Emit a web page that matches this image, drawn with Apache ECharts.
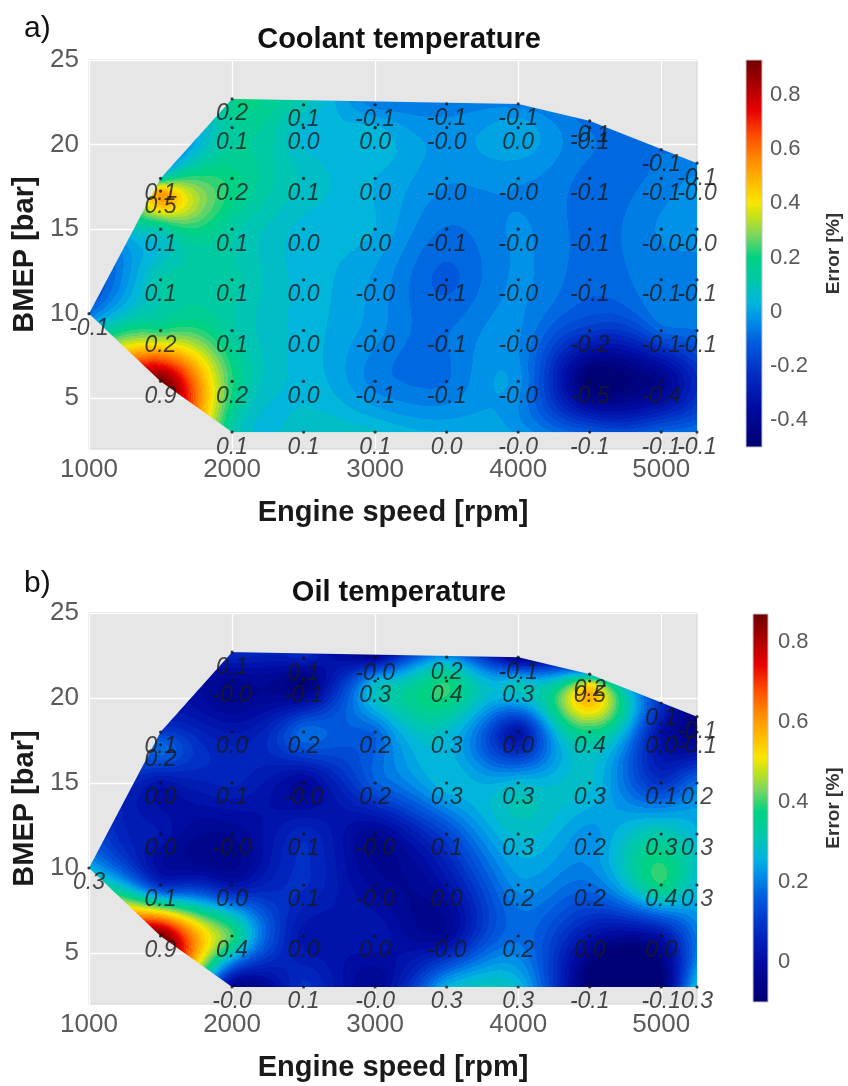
<!DOCTYPE html>
<html>
<head>
<meta charset="utf-8">
<script src="https://cdn.jsdelivr.net/npm/echarts@6/dist/echarts.min.js"></script>
<style>
  html, body { margin: 0; padding: 0; background: #ffffff; }
  #chart { width: 848px; height: 1086px; }
</style>
</head>
<body>
<div id="chart"></div>
<script>
// Engine operating points: speed [rpm] and BMEP [bar]
const speed = [
  1000,
  1500, 1500, 1500, 1500, 1500, 1500,
  2000, 2000, 2000, 2000, 2000, 2000, 2000, 2000,
  2500, 2500, 2500, 2500, 2500, 2500, 2500, 2500,
  3000, 3000, 3000, 3000, 3000, 3000, 3000, 3000,
  3500, 3500, 3500, 3500, 3500, 3500, 3500, 3500,
  4000, 4000, 4000, 4000, 4000, 4000, 4000, 4000,
  4500, 4500, 4500, 4500, 4500, 4500, 4500, 4500,
  5000, 5000, 5000, 5000, 5000, 5000, 5000,
  5250, 5250, 5250, 5250, 5250, 5250
];
const bmep = [
  10,
  18, 17.25, 15, 12, 9, 6,
  22.7, 21, 18, 15, 12, 9, 6, 3,
  22.35, 21, 18, 15, 12, 9, 6, 3,
  22.35, 21, 18, 15, 12, 9, 6, 3,
  22.4, 21, 18, 15, 12, 9, 6, 3,
  22.4, 21, 18, 15, 12, 9, 6, 3,
  21.4, 21, 18, 15, 12, 9, 6, 3,
  19.7, 18, 15, 12, 9, 6, 3,
  18.9, 18, 15, 12, 9, 3
];
// Prediction error [%] at each operating point
const coolantError = [
  -0.08,
  0.13, 0.50, 0.12, 0.12, 0.22, 0.93,
  0.18, 0.14, 0.20, 0.13, 0.13, 0.13, 0.22, 0.13,
  0.10, 0.045, 0.08, 0.04, 0.04, 0.04, 0.045, 0.08,
  -0.06, 0.03, 0.02, 0.02, -0.02, -0.03, -0.06, 0.06,
  -0.07, -0.03, -0.04, -0.08, -0.12, -0.08, -0.08, 0.02,
  -0.06, 0.01, -0.04, -0.04, -0.04, -0.04, -0.03, -0.02,
  -0.09, -0.08, -0.09, -0.09, -0.10, -0.20, -0.50, -0.12,
  -0.08, -0.07, -0.04, -0.06, -0.10, -0.42, -0.10,
  -0.07, -0.04, -0.03, -0.06, -0.08, -0.07
];
const oilError = [
  0.26,
  0.10, 0.18, 0.02, 0.03, 0.08, 0.87,
  0.08, -0.04, 0.03, 0.06, -0.03, 0.02, 0.40, -0.04,
  0.06, -0.08, 0.18, -0.02, 0.07, 0.08, 0.02, 0.08,
  -0.02, 0.26, 0.17, 0.16, -0.03, -0.02, 0.03, -0.03,
  0.22, 0.38, 0.28, 0.27, 0.12, 0.02, -0.02, 0.26,
  -0.06, 0.28, 0.02, 0.27, 0.28, 0.22, 0.18, 0.27,
  0.24, 0.45, 0.37, 0.28, 0.22, 0.18, 0.02, -0.10,
  0.08, 0.01, 0.09, 0.32, 0.38, 0.02, -0.09,
  -0.07, -0.06, 0.18, 0.26, 0.27, 0.28
];

// Axis ticks
const speedTicks = [1000, 2000, 3000, 4000, 5000];
const bmepTicks = [5, 10, 15, 20, 25];
const coolantBarTicks = [-0.4, -0.2, 0, 0.2, 0.4, 0.6, 0.8];
const oilBarTicks = [0, 0.2, 0.4, 0.6, 0.8];
const speedRange = [1000, 5250];
const bmepRange = [2, 25];

const FONT = "'Liberation Sans', Arial, Helvetica, sans-serif";
const TICK_COLOR = '#5a5a5a';

// Jet-like colour scale (position, rgb)
const jetStops = [
  [0.00, [0, 0, 112]],
  [0.10, [0, 10, 160]],
  [0.18, [0, 40, 192]],
  [0.27, [0, 92, 222]],
  [0.33, [0, 145, 232]],
  [0.37, [0, 180, 222]],
  [0.43, [0, 200, 170]],
  [0.49, [0, 210, 130]],
  [0.545, [120, 213, 98]],
  [0.59, [190, 225, 30]],
  [0.63, [250, 230, 0]],
  [0.68, [255, 190, 0]],
  [0.74, [255, 140, 0]],
  [0.80, [255, 80, 0]],
  [0.87, [230, 0, 0]],
  [1.00, [110, 0, 0]]
];

function jetColor(f) {
  f = Math.max(0, Math.min(1, f));
  for (let k = 1; k < jetStops.length; k++) {
    const [f1, c1] = jetStops[k];
    if (f <= f1) {
      const [f0, c0] = jetStops[k - 1];
      const t = (f - f0) / (f1 - f0);
      return [0, 1, 2].map(i => Math.round(c0[i] + t * (c1[i] - c0[i])));
    }
  }
  return jetStops[jetStops.length - 1][1];
}

function solveLinear(A, b) {
  const n = b.length;
  for (let c = 0; c < n; c++) {
    let p = c;
    for (let r = c + 1; r < n; r++) if (Math.abs(A[r][c]) > Math.abs(A[p][c])) p = r;
    [A[c], A[p]] = [A[p], A[c]];
    [b[c], b[p]] = [b[p], b[c]];
    for (let r = c + 1; r < n; r++) {
      const m = A[r][c] / A[c][c];
      if (m === 0) continue;
      for (let k = c; k < n; k++) A[r][k] -= m * A[c][k];
      b[r] -= m * b[c];
    }
  }
  const x = new Array(n).fill(0);
  for (let r = n - 1; r >= 0; r--) {
    let s = b[r];
    for (let k = r + 1; k < n; k++) s -= A[r][k] * x[k];
    x[r] = s / A[r][r];
  }
  return x;
}

// Biharmonic Green's function, written in terms of squared distance
function green(r2) {
  return r2 > 0 ? r2 * (0.5 * Math.log(r2) - 1) : 0;
}

function convexHull(pts) {
  const p = pts.map(q => q.slice()).sort((a, b) => a[0] - b[0] || a[1] - b[1]);
  const cross = (o, a, b) => (a[0] - o[0]) * (b[1] - o[1]) - (a[1] - o[1]) * (b[0] - o[0]);
  const lower = [], upper = [];
  for (const q of p) {
    while (lower.length >= 2 && cross(lower[lower.length - 2], lower[lower.length - 1], q) <= 0) lower.pop();
    lower.push(q);
  }
  for (let i = p.length - 1; i >= 0; i--) {
    const q = p[i];
    while (upper.length >= 2 && cross(upper[upper.length - 2], upper[upper.length - 1], q) <= 0) upper.pop();
    upper.push(q);
  }
  upper.pop(); lower.pop();
  return lower.concat(upper);
}

// Paints the filled error map (biharmonic spline surface, banded colours) inside the hull of the points
function paintField(w, h, pts, z, vmin, vmax) {
  const S = 100;
  const n = z.length;
  const px = pts.map(p => p[0] / S), py = pts.map(p => p[1] / S);
  const A = [];
  for (let i = 0; i < n; i++) {
    const row = [];
    for (let j = 0; j < n; j++) {
      const dx = px[i] - px[j], dy = py[i] - py[j];
      row.push(green(dx * dx + dy * dy));
    }
    A.push(row);
  }
  const wts = solveLinear(A, z.slice());
  const hull = convexHull(pts);
  let area = 0;
  for (let i = 0; i < hull.length; i++) {
    const a = hull[i], b = hull[(i + 1) % hull.length];
    area += a[0] * b[1] - b[0] * a[1];
  }
  const sgn = area > 0 ? 1 : -1;
  const edges = [];
  for (let i = 0; i < hull.length; i++) {
    const a = hull[i], b = hull[(i + 1) % hull.length];
    const ex = b[0] - a[0], ey = b[1] - a[1];
    const len = Math.hypot(ex, ey);
    edges.push([a[0], a[1], -ey * sgn / len, ex * sgn / len]);
  }
  const canvas = document.createElement('canvas');
  canvas.width = w; canvas.height = h;
  const ctx = canvas.getContext('2d');
  const img = ctx.createImageData(w, h);
  const nLev = 44;
  const palette = [];
  for (let k = 0; k < nLev; k++) palette.push(jetColor((k + 0.5) / nLev));
  for (let j = 0; j < h; j++) {
    const yc = j + 0.5;
    for (let i = 0; i < w; i++) {
      const xc = i + 0.5;
      let d = Infinity;
      for (const e of edges) {
        const s = (xc - e[0]) * e[2] + (yc - e[1]) * e[3];
        if (s < d) d = s;
      }
      if (d < -0.5) continue;
      const alpha = Math.min(1, d + 0.5);
      const ux = xc / S, uy = yc / S;
      let v = 0;
      for (let k = 0; k < n; k++) {
        const dx = ux - px[k], dy = uy - py[k];
        v += wts[k] * green(dx * dx + dy * dy);
      }
      let lev = Math.floor((v - vmin) / (vmax - vmin) * nLev);
      lev = Math.max(0, Math.min(nLev - 1, lev));
      const c = palette[lev];
      const o = (j * w + i) * 4;
      img.data[o] = c[0]; img.data[o + 1] = c[1]; img.data[o + 2] = c[2];
      img.data[o + 3] = Math.round(alpha * 255);
    }
  }
  ctx.putImageData(img, 0, 0);
  return canvas;
}

function fieldRenderer(errors) {
  const vmin = Math.min(...errors), vmax = Math.max(...errors);
  let cache = null;
  return function (params, api) {
    const tl = api.coord([speedRange[0], bmepRange[1]]);
    const br = api.coord([speedRange[1], bmepRange[0]]);
    const w = Math.round(br[0] - tl[0]), h = Math.round(br[1] - tl[1]);
    const key = [w, h, tl[0], tl[1]].join(',');
    if (!cache || cache.key !== key) {
      const pts = speed.map((s, i) => {
        const p = api.coord([s, bmep[i]]);
        return [p[0] - tl[0], p[1] - tl[1]];
      });
      cache = { key, canvas: paintField(w, h, pts, errors, vmin, vmax) };
    }
    return {
      type: 'image',
      style: { image: cache.canvas, x: tl[0], y: tl[1], width: w, height: h }
    };
  };
}

function colorbarRenderer(errors) {
  const vmin = Math.min(...errors), vmax = Math.max(...errors);
  return function (params, api) {
    const tl = api.coord([0, vmax]);
    const br = api.coord([1, vmin]);
    return {
      type: 'rect',
      shape: { x: tl[0], y: tl[1], width: br[0] - tl[0], height: br[1] - tl[1] },
      style: {
        fill: {
          type: 'linear', x: 0, y: 1, x2: 0, y2: 0,
          colorStops: jetStops.map(([f, c]) => ({ offset: f, color: `rgb(${c[0]},${c[1]},${c[2]})` }))
        },
        stroke: '#c4c4c4', lineWidth: 1
      }
    };
  };
}

function pointData(errors) {
  return speed.map((s, i) => [s, bmep[i], errors[i]]);
}

function mainX(gridIndex) {
  return {
    type: 'value', gridIndex, min: speedRange[0], max: speedRange[1],
    name: 'Engine speed [rpm]', nameLocation: 'middle', nameGap: 49,
    nameTextStyle: { fontSize: 29, fontWeight: 'bold', color: '#1a1a1a', fontFamily: FONT },
    axisLine: { show: false },
    axisTick: { show: false, customValues: speedTicks },
    axisLabel: { customValues: speedTicks, fontSize: 26, color: TICK_COLOR, margin: 8, fontFamily: FONT,
      formatter: v => String(v) },
    splitLine: { show: true, lineStyle: { color: '#ffffff', width: 1.3 } }
  };
}
function mainY(gridIndex) {
  return {
    type: 'value', gridIndex, min: bmepRange[0], max: bmepRange[1],
    name: 'BMEP [bar]', nameLocation: 'middle', nameGap: 45,
    nameTextStyle: { fontSize: 29, fontWeight: 'bold', color: '#1a1a1a', fontFamily: FONT },
    axisLine: { show: false },
    axisTick: { show: false, customValues: bmepTicks },
    axisLabel: { customValues: bmepTicks, fontSize: 26, color: TICK_COLOR, margin: 10, fontFamily: FONT,
      formatter: v => String(v) },
    splitLine: { show: true, lineStyle: { color: '#ffffff', width: 1.3 } }
  };
}
function barX(gridIndex) {
  return { type: 'value', gridIndex, min: 0, max: 1, show: false };
}
function barY(gridIndex, errors, ticks, gap, margin) {
  return {
    type: 'value', gridIndex, position: 'right',
    min: Math.min(...errors), max: Math.max(...errors),
    name: 'Error [%]', nameLocation: 'middle', nameRotate: 90, nameGap: gap,
    nameTextStyle: { fontSize: 19, fontWeight: 'bold', color: '#333', fontFamily: FONT },
    axisLine: { show: false },
    axisTick: { show: false, customValues: ticks },
    axisLabel: { customValues: ticks, fontSize: 22, color: TICK_COLOR, margin, fontFamily: FONT,
      formatter: v => (Math.abs(v) < 1e-9 ? '0' : String(Math.round(v * 10) / 10)) },
    splitLine: { show: false }
  };
}
function scatterSeries(idx, errors) {
  return {
    type: 'scatter', xAxisIndex: idx, yAxisIndex: idx, z: 5,
    data: pointData(errors), symbolSize: 3.2, silent: true,
    itemStyle: { color: '#111111' },
    label: {
      show: true, position: 'bottom', distance: 2,
      formatter: p => p.value[2].toFixed(1),
      fontSize: 23, fontStyle: 'italic', color: '#1a1a1a', fontFamily: FONT
    }
  };
}

const chart = echarts.init(document.getElementById('chart'), null, { renderer: 'canvas' });
chart.setOption({
  animation: false,
  backgroundColor: '#ffffff',
  title: [
    { text: 'a)', left: 19, top: 9, textStyle: { fontSize: 30, fontWeight: 'normal', color: '#111', fontFamily: FONT } },
    { text: 'Coolant temperature', left: 394, textAlign: 'center', top: 20,
      textStyle: { fontSize: 29, fontWeight: 'bold', color: '#111', fontFamily: FONT } },
    { text: 'b)', left: 19, top: 564, textStyle: { fontSize: 30, fontWeight: 'normal', color: '#111', fontFamily: FONT } },
    { text: 'Oil temperature', left: 394, textAlign: 'center', top: 573,
      textStyle: { fontSize: 29, fontWeight: 'bold', color: '#111', fontFamily: FONT } }
  ],
  grid: [
    { left: 89, top: 60, width: 608, height: 389, show: true, backgroundColor: '#e6e6e6', borderColor: '#d2d2d2', borderWidth: 1 },
    { left: 89, top: 613, width: 608, height: 391, show: true, backgroundColor: '#e6e6e6', borderColor: '#d2d2d2', borderWidth: 1 },
    { left: 746, top: 60, width: 16, height: 387 },
    { left: 753, top: 614, width: 15, height: 388 }
  ],
  xAxis: [mainX(0), mainX(1), barX(2), barX(3)],
  yAxis: [mainY(0), mainY(1),
    barY(2, coolantError, coolantBarTicks, 62, 8),
    barY(3, oilError, oilBarTicks, 56, 10)],
  series: [
    { type: 'custom', xAxisIndex: 0, yAxisIndex: 0, z: 2, silent: true, clip: true,
      data: [[speedRange[0], bmepRange[0]]], renderItem: fieldRenderer(coolantError) },
    scatterSeries(0, coolantError),
    { type: 'custom', xAxisIndex: 1, yAxisIndex: 1, z: 2, silent: true, clip: true,
      data: [[speedRange[0], bmepRange[0]]], renderItem: fieldRenderer(oilError) },
    scatterSeries(1, oilError),
    { type: 'custom', xAxisIndex: 2, yAxisIndex: 2, silent: true,
      data: [[0, 0]], renderItem: colorbarRenderer(coolantError) },
    { type: 'custom', xAxisIndex: 3, yAxisIndex: 3, silent: true,
      data: [[0, 0]], renderItem: colorbarRenderer(oilError) }
  ]
});
</script>
</body>
</html>
